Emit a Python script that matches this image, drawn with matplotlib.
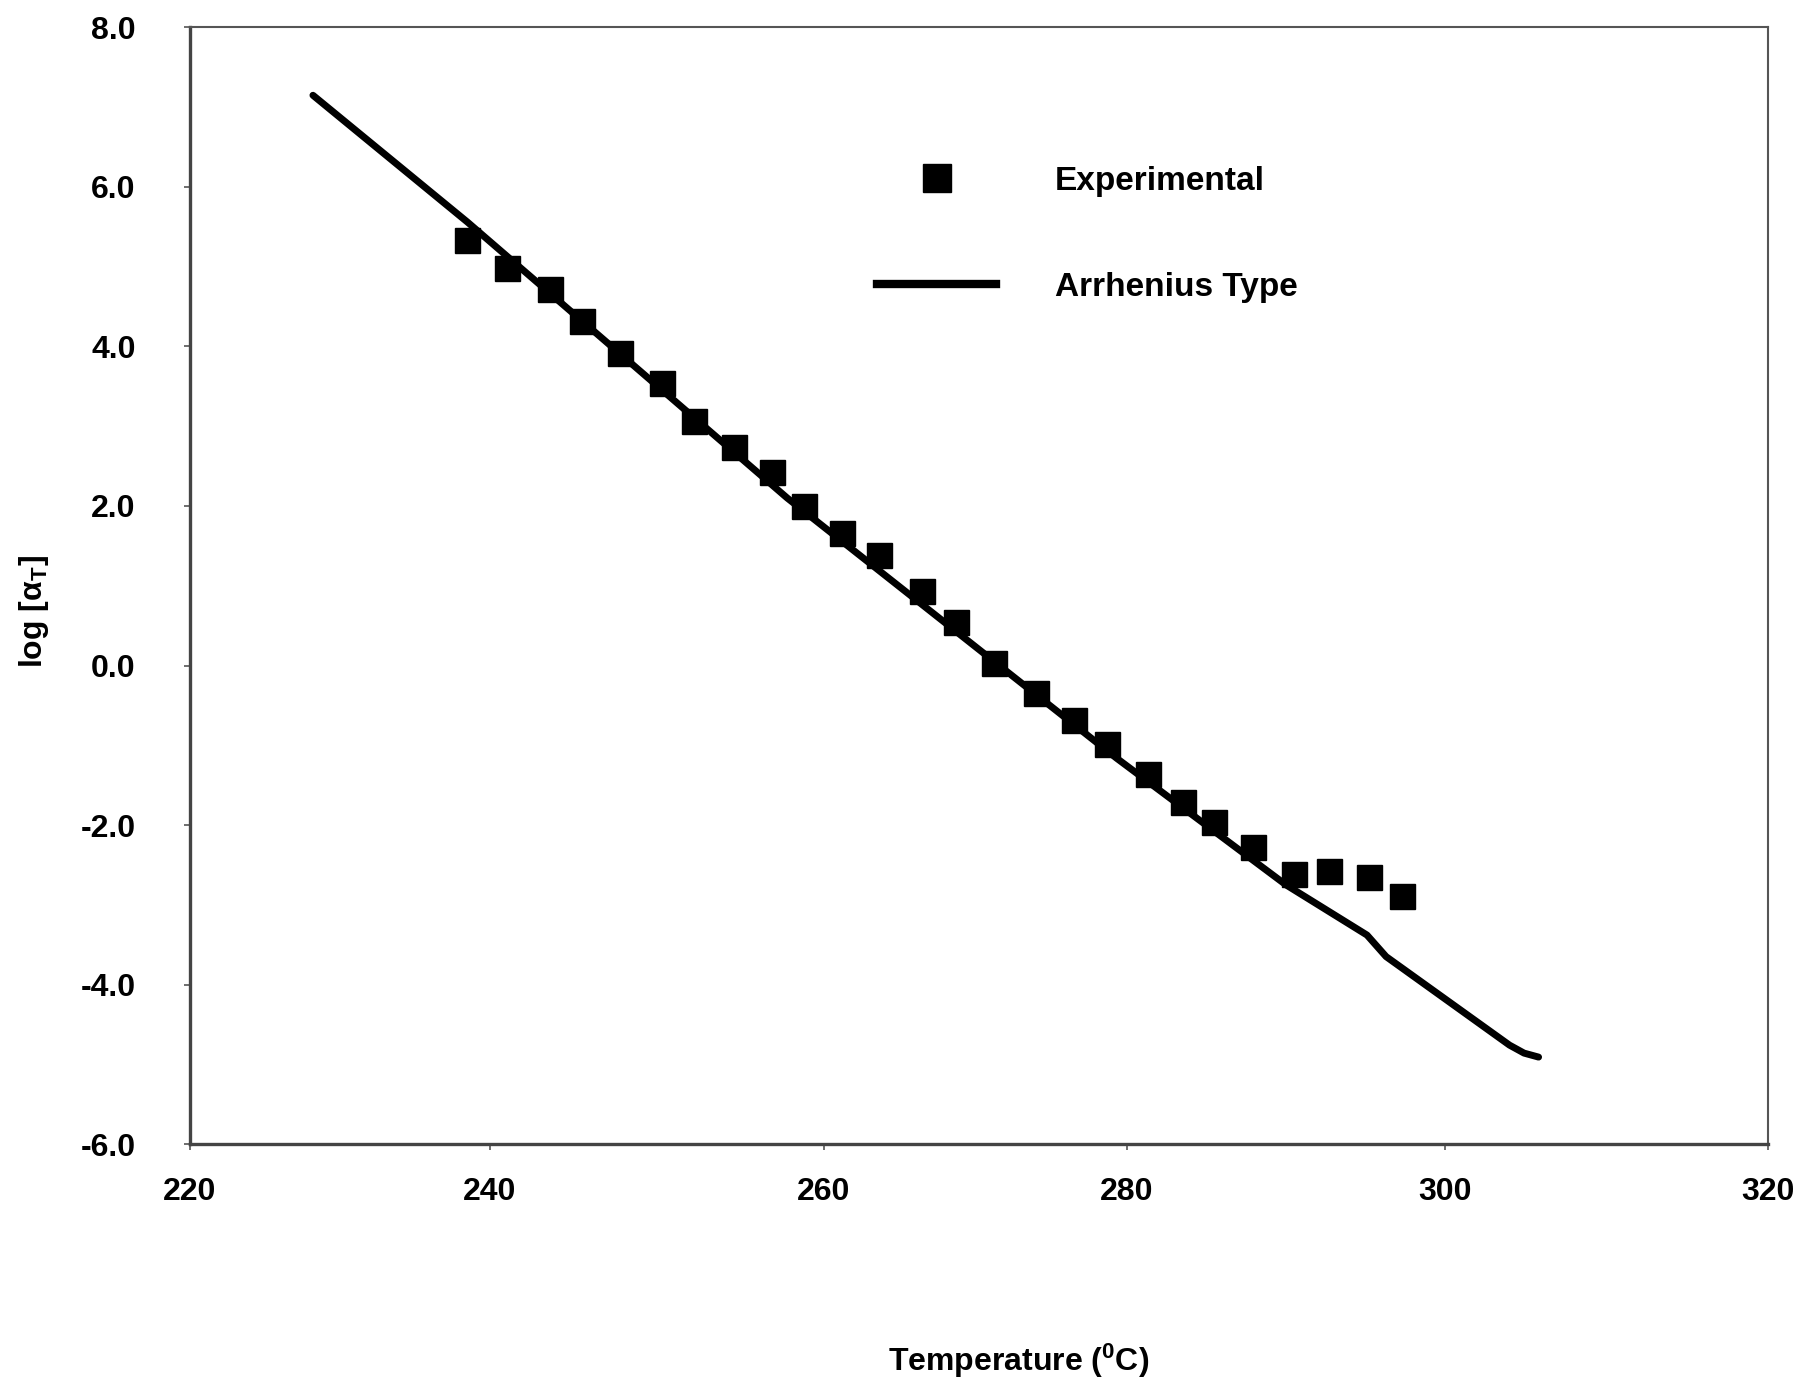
import numpy as np
import matplotlib
matplotlib.use('Agg')
import matplotlib.pyplot as plt
from matplotlib.lines import Line2D
from matplotlib.ticker import FormatStrFormatter

plt.rcParams['font.family'] = ['Liberation Sans', 'DejaVu Sans']
plt.rcParams['font.weight'] = 'bold'
plt.rcParams['axes.unicode_minus'] = False
plt.rcParams['mathtext.fontset'] = 'custom'
plt.rcParams['mathtext.rm'] = 'Liberation Sans:bold'
plt.rcParams['mathtext.it'] = 'Liberation Sans:bold'
plt.rcParams['mathtext.bf'] = 'Liberation Sans:bold'

# experimental shift factors
temp_exp = [238.5, 241.0, 243.6, 245.5, 247.8, 250.3, 252.2, 254.6, 256.9,
            258.8, 261.2, 263.6, 266.5, 268.7, 271.2, 274.0, 276.5, 278.7,
            281.3, 283.5, 285.5, 287.9, 290.5, 292.7, 295.2, 297.3]
log_at_exp = [5.34, 4.99, 4.72, 4.32, 3.92, 3.54, 3.06, 2.74, 2.43,
              2.00, 1.66, 1.39, 0.94, 0.55, 0.03, -0.35, -0.68, -0.98,
              -1.36, -1.71, -1.96, -2.27, -2.61, -2.58, -2.65, -2.89]

# Arrhenius type curve
temp_fit = [228.2, 238.5, 257.8, 279.3, 290.0, 295.1, 296.3, 304.0, 304.9, 305.8]
log_at_fit = [7.15, 5.56, 2.10, -1.16, -2.75, -3.38, -3.65, -4.76, -4.86, -4.91]

x_ticks = [220, 240, 260, 280, 300, 320]
y_ticks = [-6.0, -4.0, -2.0, 0.0, 2.0, 4.0, 6.0, 8.0]

# the original temperature axis is not evenly spaced: where each tick sits
x_tick_frac = [0.0, 0.1901, 0.4018, 0.5938, 0.7953, 1.0]


def fwd(t):
    return np.interp(t, x_ticks, x_tick_frac)


def inv(f):
    return np.interp(f, x_tick_frac, x_ticks)


fig = plt.figure(figsize=(18.04, 13.81), dpi=100)
ax = fig.add_axes([0.1053, 0.1716, 0.8747, 0.8085])

ax.set_xscale('function', functions=(fwd, inv))
ax.plot(temp_exp, log_at_exp, 's', color='black', markersize=18, zorder=2)
ax.plot(temp_fit, log_at_fit, '-', color='black', lw=5,
        solid_capstyle='round', solid_joinstyle='round', zorder=3)

ax.set_xlim(220, 320)
ax.set_ylim(-6, 8)
ax.set_xticks(x_ticks)
ax.set_yticks(y_ticks)
ax.yaxis.set_major_formatter(FormatStrFormatter('%.1f'))
ax.minorticks_off()

for s in ['left', 'bottom']:
    ax.spines[s].set_linewidth(2.4)
    ax.spines[s].set_color('#444444')
for s in ['top', 'right']:
    ax.spines[s].set_linewidth(1.5)
    ax.spines[s].set_color('#555555')

ax.tick_params(axis='y', direction='out', length=4, width=1.2, color='#555555',
               labelsize=23, pad=35)
ax.tick_params(axis='x', direction='out', length=4, width=1.2, color='#555555',
               labelsize=23, pad=20)

ax.set_xlabel('Temperature ($^\\mathregular{0}$C)', fontsize=23, fontweight='bold')
ax.xaxis.set_label_coords(0.5254, -0.1773)
ax.set_ylabel('log [α$_\\mathregular{T}$]', fontsize=23, fontweight='bold')
ax.yaxis.set_label_coords(-0.088, 0.477)

handles = [Line2D([], [], marker='s', ls='none', color='black', markersize=20),
           Line2D([], [], ls='-', color='black', lw=6)]
ax.legend(handles, ['Experimental', 'Arrhenius Type'], loc='upper left',
          bbox_to_anchor=(0.4354, 0.876), frameon=False, borderpad=0,
          borderaxespad=0, fontsize=24, handlelength=3.57, handletextpad=1.77,
          labelspacing=2.24)

fig.savefig('out.png', dpi=100)
